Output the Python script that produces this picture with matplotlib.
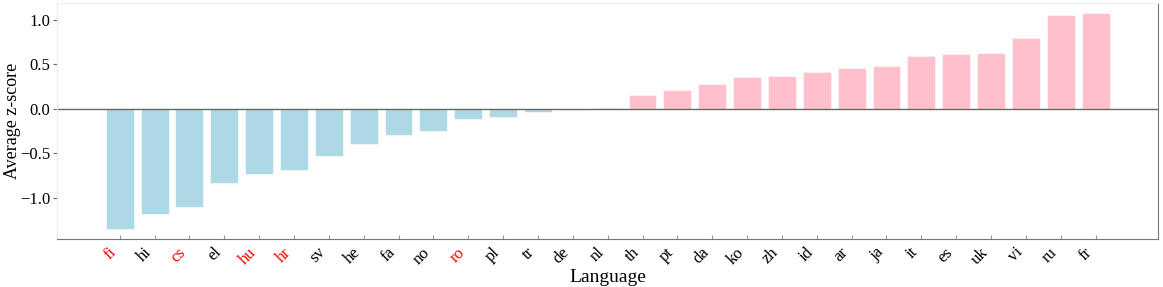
import numpy as np
import matplotlib.pyplot as plt

plt.rcParams['font.family'] = ['Liberation Serif', 'DejaVu Serif']

langs = ['fi', 'hi', 'cs', 'el', 'hu', 'hr', 'sv', 'he', 'fa', 'no', 'ro', 'pl', 'tr', 'de',
         'nl', 'th', 'pt', 'da', 'ko', 'zh', 'id', 'ar', 'ja', 'it', 'es', 'uk', 'vi', 'ru', 'fr']
scores = [-1.35, -1.18, -1.105, -0.83, -0.727, -0.69, -0.535, -0.397, -0.289, -0.25, -0.12,
          -0.094, -0.037, -0.015, 0.011, 0.154, 0.206, 0.281, 0.356, 0.367, 0.419, 0.453,
          0.48, 0.596, 0.614, 0.622, 0.794, 1.053, 1.075]
red_langs = ['fi', 'cs', 'hu', 'hr', 'ro']

x = np.arange(len(langs))
colors = ['lightblue' if v < 0 else 'pink' for v in scores]

fig, ax = plt.subplots(figsize=(11.63, 2.87), dpi=100)
ax.bar(x, scores, width=0.8, color=colors, edgecolor=(1, 1, 1, 0.5), linewidth=0.8)
ax.axhline(0, color='#666666', linewidth=1)

ax.set_xticks(x)
ax.set_xticklabels(langs, rotation=45, ha='right', fontsize=12)
for lbl in ax.get_xticklabels():
    if lbl.get_text() in red_langs:
        lbl.set_color('red')
ax.tick_params(axis='x', direction='in', length=3, color='#999999', pad=4)
ax.tick_params(axis='y', labelsize=12, length=3, color='#666666', pad=2)
ax.set_yticks([-1.0, -0.5, 0.0, 0.5, 1.0])
ax.set_yticklabels(['\u22121.0', '\u22120.5', '0.0', '0.5', '1.0'])

ax.set_xlim(-1.8, 29.8)
ax.set_ylim(-1.46, 1.19)
ax.set_xlabel('Language', fontsize=14, labelpad=1)
ax.set_ylabel('Average z-score', fontsize=13)
ax.yaxis.set_label_coords(-0.033, 0.5)

ax.spines['left'].set_color('#e8e8e8')
ax.spines['top'].set_color('#eeeeee')
ax.spines['bottom'].set_color('#777777')
ax.spines['right'].set_color('#777777')

plt.subplots_adjust(left=0.049, right=0.996, top=0.99, bottom=0.168)
plt.savefig('out.png', dpi=100)
